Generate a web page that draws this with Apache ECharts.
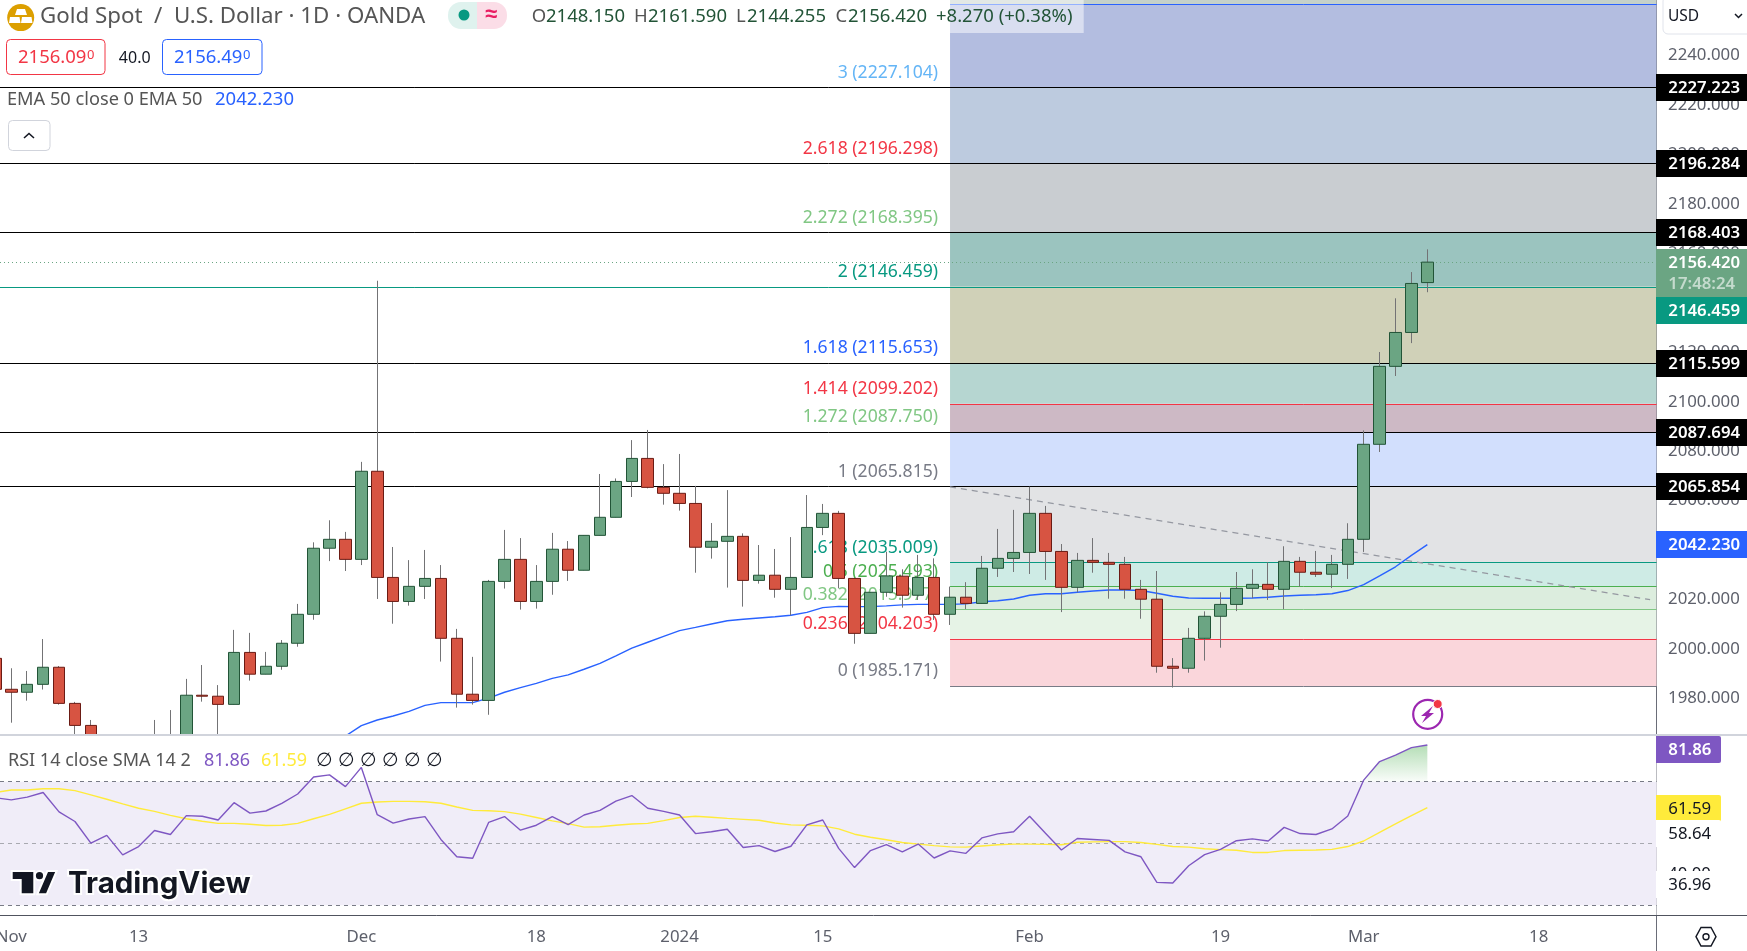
<!DOCTYPE html>
<html>
<head>
<meta charset="utf-8">
<title>Gold Spot / U.S. Dollar</title>
<script src="https://cdn.jsdelivr.net/npm/echarts@6/dist/echarts.min.js"></script>
<style>
html, body { margin: 0; padding: 0; background: #fff; overflow: hidden; }
#main { width: 1747px; height: 951px; }
</style>
</head>
<body>
<div id="main"></div>
<script>
// candles: [open, close, low, high]
var candles = [
    [1996.3,1983.8,1982.0,1999.0],[1983.8,1982.6,1970.3,1992.3],[1982.6,1985.8,1979.2,1991.2],[1985.8,1992.7,1983.7,2004.1],
    [1992.7,1978.1,1977.6,1993.2],[1978.1,1969.2,1963.0,1978.7],[1969.2,1962.0,1958.0,1971.4],[1962.0,1956.0,1950.0,1964.0],
    [1956.0,1952.0,1946.0,1960.0],[1952.0,1955.0,1947.0,1962.0],[1955.0,1960.0,1952.0,1971.4],[1960.0,1958.0,1953.0,1975.4],
    [1958.0,1981.4,1955.0,1988.0],[1981.4,1981.0,1978.8,1993.6],[1981.0,1977.7,1964.0,1985.5],[1977.7,1998.7,1977.7,2007.8],
    [1998.7,1989.9,1987.3,2006.6],[1989.9,1993.1,1989.9,1998.9],[1993.1,2002.4,1991.7,2003.7],[2002.4,2014.1,2001.0,2018.3],
    [2014.1,2040.8,2011.9,2043.2],[2040.8,2044.4,2035.6,2052.1],[2044.4,2036.3,2031.6,2047.4],[2036.3,2071.9,2034.0,2075.7],
    [2071.9,2029.0,2020.3,2148.9],[2029.0,2019.3,2010.3,2041.3],[2019.3,2025.4,2017.6,2036.0],[2025.4,2028.6,2020.3,2040.1],
    [2028.6,2004.4,1995.0,2034.0],[2004.4,1981.8,1976.4,2008.2],[1981.8,1979.3,1977.6,1996.9],[1979.3,2027.4,1973.5,2028.0],
    [2027.4,2036.3,2024.5,2048.2],[2036.3,2019.3,2016.0,2044.9],[2019.3,2027.4,2016.4,2034.0],[2027.4,2040.4,2022.0,2047.0],
    [2040.4,2031.9,2027.6,2043.7],[2031.9,2046.0,2031.9,2046.0],[2046.0,2053.3,2046.0,2070.8],[2053.3,2067.8,2053.3,2069.0],
    [2067.8,2077.1,2061.5,2084.5],[2077.1,2065.4,2065.0,2088.6],[2065.4,2063.0,2058.4,2074.8],[2063.0,2058.9,2056.0,2078.9],
    [2058.9,2041.2,2030.9,2066.0],[2041.2,2043.6,2036.6,2051.0],[2043.6,2045.6,2024.9,2064.3],[2045.6,2027.8,2017.2,2046.8],
    [2027.8,2029.9,2026.5,2042.1],[2029.9,2024.2,2020.8,2040.5],[2024.2,2029.0,2013.7,2045.3],[2029.0,2049.2,2029.0,2062.3],
    [2049.2,2054.9,2046.1,2058.7],[2054.9,2028.6,2024.6,2055.9],[2028.6,2006.4,2002.2,2028.6],[2006.4,2023.0,2006.4,2023.0],
    [2023.0,2029.6,2021.2,2039.4],[2029.5,2021.8,2016.8,2032.3],[2021.8,2029.0,2019.9,2038.1],[2029.0,2014.1,2011.8,2036.7],
    [2014.1,2021.0,2009.8,2025.3],[2021.0,2018.5,2016.2,2027.1],[2018.5,2032.7,2018.5,2037.7],[2032.7,2036.7,2029.2,2048.6],
    [2036.7,2039.1,2031.2,2056.3],[2039.1,2054.9,2030.4,2065.7],[2054.9,2039.5,2028.0,2057.9],[2039.5,2025.0,2015.0,2042.5],
    [2025.0,2035.9,2023.0,2038.9],[2035.9,2035.1,2030.9,2044.9],[2035.1,2034.3,2020.4,2038.9],[2034.3,2024.2,2020.4,2037.3],
    [2024.2,2020.2,2012.3,2028.0],[2020.2,1993.1,1990.5,2031.6],[1993.1,1992.3,1984.5,1996.4],[1992.3,2004.4,1990.5,2008.6],
    [2004.4,2013.3,1995.4,2015.3],[2013.3,2018.1,2000.6,2023.0],[2018.1,2024.6,2015.4,2031.2],[2024.6,2026.2,2020.6,2032.3],
    [2026.2,2024.2,2019.9,2035.1],[2024.2,2035.5,2016.2,2041.6],[2035.5,2031.1,2025.3,2037.3],[2031.1,2030.3,2029.2,2039.7],
    [2030.3,2034.3,2024.7,2038.1],[2034.3,2044.4,2028.4,2050.9],[2044.4,2082.8,2039.3,2088.4],[2082.8,2114.3,2079.7,2120.1],
    [2114.3,2128.0,2110.4,2141.8],[2128.0,2147.8,2123.7,2152.4],[2148.15,2156.42,2144.255,2161.59]
];

var emaValues = [
    null,null,null,null,null,null,null,null,null,null,null,null,null,null,null,null,null,null,null,null,
    1961.0,1963.0,1964.9,1969.1,1971.4,1973.0,1974.9,1977.3,1978.4,1978.4,1978.4,1980.2,1982.6,1984.5,1986.2,1988.2,
    1989.6,1991.9,1994.3,1997.3,2000.4,2002.8,2005.2,2007.5,2008.8,2010.2,2011.5,2012.1,2012.6,2013.1,2013.7,2014.9,
    2016.8,2017.3,2017.2,2017.2,2017.5,2017.9,2018.1,2018.1,2018.1,2018.3,2019.2,2019.6,2020.3,2021.8,2022.4,2022.4,
    2023.0,2023.5,2023.9,2023.9,2023.7,2022.6,2021.4,2020.7,2020.6,2020.6,2020.6,2020.7,2021.0,2021.5,2021.8,2022.0,
    2022.4,2023.7,2026.1,2029.6,2033.3,2037.9,2042.23
];

var rsiValues = [
    64.8,64.1,65.0,66.5,60.2,57.1,50.1,52.6,46.3,49.0,54.2,52.9,59.0,58.8,57.6,63.2,59.8,60.5,63.0,66.0,
    71.5,72.2,68.4,74.6,59.3,56.6,57.9,58.7,51.3,45.7,45.2,56.8,58.7,54.3,55.9,58.7,56.1,59.2,60.7,63.7,
    65.5,61.4,60.4,59.2,53.2,53.8,54.6,48.7,49.3,47.4,49.1,56.0,57.6,48.4,42.2,47.7,49.6,47.3,49.8,45.3,
    47.6,46.8,51.8,53.1,53.8,58.8,53.3,47.9,51.6,51.3,51.0,47.3,45.7,37.4,37.2,42.8,46.4,48.1,50.9,51.5,
    50.8,55.2,53.2,52.9,54.7,58.9,70.5,76.5,78.6,81.0,81.86
];

var rsiSmaValues = [
    66.5,67.3,67.3,67.7,67.7,67.1,65.7,64.3,62.8,61.4,60.4,59.1,58.0,57.2,56.5,56.5,56.2,55.8,55.9,56.5,
    58.0,59.4,61.2,63.0,63.4,63.6,63.6,63.5,63.0,61.8,60.7,60.6,60.3,59.5,58.4,57.3,56.4,55.3,55.4,55.9,
    56.3,56.5,57.4,58.4,58.8,58.5,58.1,57.8,57.5,56.6,56.0,55.9,55.7,54.7,53.0,52.0,51.2,50.3,49.8,49.3,
    48.9,48.8,49.2,49.6,49.8,49.8,49.7,49.6,50.4,50.5,50.6,50.6,50.3,49.7,49.0,48.8,48.3,48.0,47.8,47.1,
    47.1,47.7,47.8,47.9,48.1,49.0,50.8,53.6,56.3,59.0,61.59
];

var slotCount = 105;
var tickSlots = [1, 9, 23, 34, 43, 52, 65, 77, 86, 97];
var tickNames = ['Nov', '13', 'Dec', '18', '2024', '15', 'Feb', '19', 'Mar', '18'];

var priceTicks = [1980, 2000, 2020, 2040, 2060, 2080, 2100, 2120, 2140, 2160, 2180, 2200, 2220, 2240];
var rsiTicks = [40, 60, 80];
var rsiLevels = [70, 50, 30];

var fibStartSlot = 60;
var fibRatios = ['', '3', '2.618', '2.272', '2', '1.618', '1.414', '1.272', '1', '0.618', '0.5', '0.382', '0.236', '0'];
var fibPrices = [2260.491, 2227.104, 2196.298, 2168.395, 2146.459, 2115.653, 2099.202, 2087.750, 2065.815, 2035.009, 2025.493, 2015.977, 2004.203, 1985.171];

var levelPrices = [2227.223, 2196.284, 2168.403, 2146.459, 2115.599, 2087.694, 2065.854];
var closePrice = 2156.42;
var emaLast = 2042.23;
var trendSlots = [60, 104];
var trendPrices = [2065.6, 2020.0];

var rsiTagValues = [81.86, 61.59, 58.64, 36.96];
var rsiOverStart = 86;

// styling
var FONT = '"Noto Sans", sans-serif';
var AXIS_SIZE = 16.8;
var AXIS_GREY = '#5d606b';
var PRICE_MIN = 1965.73, PRICE_MAX = 2262.35;
var fibLineColors = ['#2962ff', '#111', '#111', '#111', '#089981', '#111', '#f23645', '#111', '#111', '#089981', '#4caf50', '#81c784', '#f23645', '#787b86'];
var fibTextColors = ['', '#64b5f6', '#f23645', '#81c784', '#089981', '#2962ff', '#f23645', '#81c784', '#787b86', '#089981', '#4caf50', '#81c784', '#f23645', '#787b86'];
var fibBandColors = ['#b3bde0', '#bdcbdf', '#c9cdd1', '#9bc4bf', '#d0d1b8', '#b6d6d1', '#cdb9c5', '#d2dffd', '#e2e3e5', '#ceebe5', '#dcedde', '#e6f3e6', '#fad6db'];
var levelColors = ['#000', '#000', '#000', '#089981', '#000', '#000', '#000'];
var tagColors = ['#000', '#000', '#000', '#089981', '#000', '#000', '#000', '#2962ff'];
var tagShift = [0, 0, 0, 23, 0, 0, 0, 0];
var rsiTagColors = ['#7e57c2', '#ffeb3b', '#fff', '#fff'];
var rsiTagText = ['#fff', '#131722', '#131722', '#131722'];
var rsiTagShift = [4.3, 0, 16.6, 0];

var tickByslot = {};
tickNames.forEach(function (name, i) { tickByslot[tickSlots[i]] = name; });
var categories = [];
for (var s = 0; s < slotCount; s++) categories.push(tickByslot[s] || '');

function crisp(v) { return Math.floor(v + 0.3) + 0.5; }
function rightEdge(params) { return params.coordSys.x + params.coordSys.width - 1.5; }
function text(x, y, str, color, size, extra) {
    var style = { x: x, y: y, text: str, fill: color, font: (extra && extra.weight || 400) + ' ' + size + 'px ' + FONT, align: extra && extra.align || 'left', verticalAlign: 'middle' };
    return { type: 'text', z: 30, silent: true, style: style };
}

// fib bands between neighbouring levels, plus the sliver above the top level
var fibBandRows = fibPrices.slice(0, -1).map(function (p, i) { return [i, fibPrices[i + 1], p]; });

var tagValues = levelPrices.concat([emaLast]);

var option = {
    animation: false,
    backgroundColor: '#fff',
    textStyle: { fontFamily: FONT },
    grid: [
        { left: -12.55, top: 0, width: 1670.6, height: 734, outerBoundsMode: 'none' },
        { left: -12.55, top: 736.5, width: 1670.6, height: 178.5, outerBoundsMode: 'none' }
    ],
    xAxis: [
        { type: 'category', gridIndex: 0, data: categories, axisLine: { show: false }, axisTick: { show: false }, axisLabel: { show: false }, splitLine: { show: false } },
        {
            type: 'category', gridIndex: 1, data: categories,
            axisLine: { show: false }, axisTick: { show: false }, splitLine: { show: false },
            axisLabel: { interval: 0, color: AXIS_GREY, fontSize: AXIS_SIZE, fontFamily: FONT, margin: 14 }
        }
    ],
    yAxis: [
        {
            type: 'value', gridIndex: 0, position: 'right', min: PRICE_MIN, max: PRICE_MAX,
            axisLine: { show: false }, axisTick: { show: false }, splitLine: { show: false },
            axisLabel: {
                customValues: priceTicks, color: AXIS_GREY, fontSize: AXIS_SIZE, fontFamily: FONT, margin: 10, padding: [1.4, 0, 0, 0],
                formatter: function (v) { return v.toFixed(3); }
            }
        },
        {
            type: 'value', gridIndex: 1, position: 'right', min: 26.86, max: 84.6,
            axisLine: { show: false }, axisTick: { show: false }, splitLine: { show: false },
            axisLabel: {
                customValues: rsiTicks, color: '#131722', fontSize: AXIS_SIZE, fontFamily: FONT, margin: 10,
                formatter: function (v) { return v.toFixed(2); }
            }
        }
    ],
    series: [
        {
            type: 'custom', name: 'fib bands', z: 1, silent: true,
            data: [[13, 2260.491, PRICE_MAX]].concat(fibBandRows),
            renderItem: function (params, api) {
                var left = api.coord([fibStartSlot, 0])[0];
                var top = api.coord([0, api.value(2)])[1];
                var bottom = api.coord([0, api.value(1)])[1];
                var idx = params.dataIndex;
                return {
                    type: 'rect',
                    shape: { x: left, y: top, width: rightEdge(params) - left, height: bottom - top },
                    style: { fill: idx === 0 ? '#c5d1ca' : fibBandColors[idx - 1] }
                };
            }
        },
        {
            type: 'custom', name: 'fib levels', z: 2, silent: true,
            data: fibPrices.map(function (p, i) { return [i, p]; }),
            renderItem: function (params, api) {
                var left = api.coord([fibStartSlot, 0])[0];
                var y = api.coord([0, api.value(1)])[1];
                var i = params.dataIndex;
                var kids = [{
                    type: 'line',
                    shape: { x1: left, y1: crisp(y), x2: rightEdge(params), y2: crisp(y) },
                    style: { stroke: fibLineColors[i], lineWidth: 1 }
                }];
                if (fibRatios[i] !== '') {
                    kids.push({
                        type: 'text',
                        style: {
                            x: left - 12, y: y - 14.6, text: fibRatios[i] + ' (' + fibPrices[i].toFixed(3) + ')',
                            fill: fibTextColors[i], font: '400 17.6px ' + FONT, align: 'right', verticalAlign: 'middle'
                        }
                    });
                }
                return { type: 'group', children: kids };
            }
        },
        {
            type: 'custom', name: 'levels', z: 3, silent: true,
            data: levelPrices.map(function (p, i) { return [i, p]; }),
            renderItem: function (params, api) {
                var y = crisp(api.coord([0, api.value(1)])[1]);
                return {
                    type: 'line',
                    shape: { x1: 0, y1: y, x2: rightEdge(params), y2: y },
                    style: { stroke: levelColors[params.dataIndex], lineWidth: 1 }
                };
            }
        },
        {
            type: 'custom', name: 'close line', z: 3, silent: true,
            data: [[0, closePrice]],
            renderItem: function (params, api) {
                var y = crisp(api.coord([0, api.value(1)])[1]);
                return {
                    type: 'line',
                    shape: { x1: 0, y1: y, x2: rightEdge(params), y2: y },
                    style: { stroke: '#6ba583', lineWidth: 1, lineDash: [1, 3] }
                };
            }
        },
        {
            type: 'line', name: 'trend', z: 4, silent: true, symbol: 'none',
            data: trendSlots.map(function (s, i) { return [s, trendPrices[i]]; }),
            lineStyle: { color: '#9598a1', width: 1.2, type: [6, 5] }
        },
        {
            type: 'line', name: 'EMA 50', z: 4, silent: true, symbol: 'none', data: emaValues,
            lineStyle: { color: '#2962ff', width: 1.4 }
        },
        {
            type: 'candlestick', name: 'wicks', z: 5, silent: true, barWidth: 1, data: candles,
            itemStyle: { color: '#737375', color0: '#737375', borderColor: '#737375', borderColor0: '#737375', borderWidth: 1 }
        },
        {
            type: 'candlestick', name: 'bodies', z: 6, silent: true, barWidth: 12,
            data: candles.map(function (c) { return [c[0], c[1], Math.min(c[0], c[1]), Math.max(c[0], c[1])]; }),
            itemStyle: { color: '#6ba583', color0: '#d75442', borderColor: '#225437', borderColor0: '#6b1b14', borderWidth: 1 }
        },
        {
            type: 'custom', name: 'price tags', z: 10, silent: true,
            data: tagValues.map(function (p, i) { return [i, p]; }),
            renderItem: function (params, api) {
                var y = crisp(api.coord([0, api.value(1)])[1]) - 0.5 + tagShift[params.dataIndex];
                var p = api.value(1);
                return {
                    type: 'group',
                    children: [
                        { type: 'rect', shape: { x: 1656, y: y - 13, width: 91, height: 27 }, style: { fill: tagColors[params.dataIndex] } },
                        { type: 'text', style: { x: 1668.3, y: y + 0.8, text: p.toFixed(3), fill: '#fff', font: '600 16.8px ' + FONT, align: 'left', verticalAlign: 'middle' } }
                    ]
                };
            }
        },
        {
            type: 'custom', name: 'close tag', z: 11, silent: true,
            data: [[0, closePrice]],
            renderItem: function (params, api) {
                var y = crisp(api.coord([0, api.value(1)])[1]) - 0.5;
                return {
                    type: 'group',
                    children: [
                        { type: 'rect', shape: { x: 1656, y: y - 13, width: 91, height: 48 }, style: { fill: '#6ba583' } },
                        { type: 'text', style: { x: 1668.3, y: y + 0.8, text: closePrice.toFixed(3), fill: '#fff', font: '600 16.8px ' + FONT, align: 'left', verticalAlign: 'middle' } },
                        { type: 'text', style: { x: 1668.3, y: y + 22, text: '17:48:24', fill: 'rgba(255,255,255,0.6)', font: '600 16.8px ' + FONT, align: 'left', verticalAlign: 'middle' } }
                    ]
                };
            }
        },

        // RSI pane, sits over the candle bodies that run past the price pane
        {
            type: 'custom', name: 'rsi backdrop', xAxisIndex: 1, yAxisIndex: 1, z: 7, silent: true,
            data: [[0, 0]],
            renderItem: function (params) {
                return {
                    type: 'rect',
                    shape: { x: 0, y: params.coordSys.y - 1, width: rightEdge(params), height: params.coordSys.height + 1 },
                    style: { fill: '#fff' }
                };
            }
        },
        {
            type: 'custom', name: 'rsi band', xAxisIndex: 1, yAxisIndex: 1, z: 7, silent: true,
            data: [[0, rsiLevels[0], rsiLevels[2]]],
            renderItem: function (params, api) {
                var top = api.coord([0, api.value(1)])[1];
                var bottom = api.coord([0, api.value(2)])[1];
                return {
                    type: 'rect',
                    shape: { x: 0, y: top, width: rightEdge(params), height: bottom - top },
                    style: { fill: '#f0edf8' }
                };
            }
        },
        {
            type: 'custom', name: 'rsi levels', xAxisIndex: 1, yAxisIndex: 1, z: 8, silent: true,
            data: rsiLevels.map(function (v, i) { return [i, v]; }),
            renderItem: function (params, api) {
                var y = crisp(api.coord([0, api.value(1)])[1]);
                return {
                    type: 'line',
                    shape: { x1: 0, y1: y, x2: rightEdge(params), y2: y },
                    style: { stroke: params.dataIndex === 1 ? '#a8a9b0' : '#787b86', lineWidth: 1, lineDash: [4, 4] }
                };
            }
        },
        {
            type: 'line', name: 'rsi over', xAxisIndex: 1, yAxisIndex: 1, z: 8, silent: true, symbol: 'none',
            data: rsiValues.map(function (v, i) { return i >= rsiOverStart ? v : null; }),
            lineStyle: { width: 0 },
            areaStyle: {
                origin: rsiLevels[0], opacity: 1,
                color: new echarts.graphic.LinearGradient(0, 0, 0, 1, [
                    { offset: 0, color: 'rgba(76,175,80,0.42)' },
                    { offset: 1, color: 'rgba(76,175,80,0.03)' }
                ])
            }
        },
        {
            type: 'line', name: 'RSI SMA', xAxisIndex: 1, yAxisIndex: 1, z: 8, silent: true, symbol: 'none', data: rsiSmaValues,
            lineStyle: { color: '#ffeb3b', width: 1.4 }
        },
        {
            type: 'line', name: 'RSI', xAxisIndex: 1, yAxisIndex: 1, z: 8, silent: true, symbol: 'none', data: rsiValues,
            lineStyle: { color: '#7e57c2', width: 1.4 }
        },
        {
            type: 'custom', name: 'rsi tags', xAxisIndex: 1, yAxisIndex: 1, z: 10, silent: true,
            data: rsiTagValues.map(function (v, i) { return [i, v]; }),
            renderItem: function (params, api) {
                var i = params.dataIndex;
                var y = Math.round(api.coord([0, api.value(1)])[1] + rsiTagShift[i]);
                return {
                    type: 'group',
                    children: [
                        { type: 'rect', shape: { x: 1656, y: y - 13, width: 65, height: 27, r: [0, 2, 2, 0] }, style: { fill: rsiTagColors[i] } },
                        { type: 'text', style: { x: 1668.3, y: y + 1, text: rsiTagValues[i].toFixed(2), fill: rsiTagText[i], font: (i === 0 ? '600' : '400') + ' 16.8px ' + FONT, align: 'left', verticalAlign: 'middle' } }
                    ]
                };
            }
        }
    ],
    graphic: [
        // frame lines
        { type: 'line', z: 0, silent: true, shape: { x1: 1656.5, y1: 0, x2: 1656.5, y2: 951 }, style: { stroke: '#6a6d78', lineWidth: 1 } },
        { type: 'line', z: 0, silent: true, shape: { x1: 0, y1: 915.5, x2: 1747, y2: 915.5 }, style: { stroke: '#50535e', lineWidth: 1 } },
        { type: 'rect', z: 9, silent: true, shape: { x: 0, y: 734, width: 1747, height: 2 }, style: { fill: '#d1d4dc' } },

        // header
        { type: 'circle', z: 30, silent: true, shape: { cx: 20.7, cy: 17.6, r: 13.5 }, style: { fill: '#dc9f00' } },
        { type: 'polygon', z: 31, silent: true, shape: { points: [[17, 9], [25, 9], [27, 15], [15, 15]] }, style: { fill: '#fff' } },
        { type: 'polygon', z: 31, silent: true, shape: { points: [[10, 17], [19.5, 17], [20.5, 23], [9, 23]] }, style: { fill: '#fff' } },
        { type: 'polygon', z: 31, silent: true, shape: { points: [[22, 17], [31.5, 17], [32.5, 23], [21, 23]] }, style: { fill: '#fff' } },
        text(40, 17, 'Gold Spot  /  U.S. Dollar · 1D · OANDA', '#555', 22.3),
        { type: 'rect', z: 30, silent: true, shape: { x: 448, y: 2, width: 30, height: 27, r: [13, 0, 0, 13] }, style: { fill: '#dff2ee' } },
        { type: 'rect', z: 30, silent: true, shape: { x: 477, y: 2, width: 30, height: 27, r: [0, 13, 13, 0] }, style: { fill: '#fbdde7' } },
        { type: 'circle', z: 31, silent: true, shape: { cx: 464, cy: 15, r: 5.5 }, style: { fill: '#089981' } },
        text(491, 15, '≈', '#e91e63', 22, { align: 'center', weight: 700 }),

        { type: 'rect', z: 29, silent: true, shape: { x: 949.7, y: 0, width: 134, height: 33 }, style: { fill: 'rgba(255,255,255,0.5)' } },
        text(531.8, 17, 'O', '#555', 18.5),
        text(546, 17, '2148.150', '#225437', 18.5),
        text(634, 17, 'H', '#555', 18.5),
        text(648, 17, '2161.590', '#225437', 18.5),
        text(736, 17, 'L', '#555', 18.5),
        text(747, 17, '2144.255', '#225437', 18.5),
        text(835.6, 17, 'C', '#555', 18.5),
        text(848, 17, '2156.420', '#225437', 18.5),
        text(936, 17, '+8.270 (+0.38%)', '#225437', 18.5),

        { type: 'rect', z: 30, silent: true, shape: { x: 6.5, y: 39.5, width: 98.5, height: 35, r: 4 }, style: { fill: '#fff', stroke: '#f23645', lineWidth: 1 } },
        text(18, 58, '2156.09', '#f23645', 18.5),
        text(87, 55, '0', '#f23645', 13),
        text(134.7, 58, '40.0', '#131722', 16, { align: 'center' }),
        { type: 'rect', z: 30, silent: true, shape: { x: 162.5, y: 39.5, width: 99.5, height: 35, r: 4 }, style: { fill: '#fff', stroke: '#2962ff', lineWidth: 1 } },
        text(174, 58, '2156.49', '#2962ff', 18.5),
        text(243, 55, '0', '#2962ff', 13),

        text(7, 100, 'EMA 50 close 0 EMA 50', '#555', 18.2),
        text(215, 100, '2042.230', '#2962ff', 18.5),
        { type: 'rect', z: 30, silent: true, shape: { x: 8.5, y: 120.5, width: 41.5, height: 30, r: 4 }, style: { fill: '#fff', stroke: '#d1d4dc', lineWidth: 1 } },
        { type: 'polyline', z: 31, silent: true, shape: { points: [[24, 138], [29, 133.5], [34, 138]] }, style: { stroke: '#131722', lineWidth: 1.6, fill: 'none' } },

        // right column
        { type: 'rect', z: 30, silent: true, shape: { x: 1663, y: -4, width: 92, height: 38, r: 5 }, style: { fill: '#fff', stroke: '#e0e3eb', lineWidth: 1 } },
        text(1668, 17, 'USD', '#131722', 15.5),
        { type: 'polyline', z: 31, silent: true, shape: { points: [[1735, 14], [1738.5, 17.5], [1742, 14]] }, style: { stroke: '#131722', lineWidth: 1.5, fill: 'none' } },
        { type: 'polygon', z: 30, silent: true, shape: { points: [[1696, 936.7], [1701, 927.5], [1711, 927.5], [1716, 936.7], [1711, 946], [1701, 946]] }, style: { fill: 'none', stroke: '#131722', lineWidth: 1.4 } },
        { type: 'circle', z: 30, silent: true, shape: { cx: 1706, cy: 936.7, r: 3 }, style: { fill: 'none', stroke: '#131722', lineWidth: 1.4 } },

        // bolt badge
        { type: 'circle', z: 30, silent: true, shape: { cx: 1427.7, cy: 714.3, r: 14.5 }, style: { fill: 'none', stroke: '#9c27b0', lineWidth: 2.2 } },
        { type: 'polygon', z: 31, silent: true, shape: { points: [[1433, 706], [1421, 716], [1426, 716], [1422, 723], [1434, 713], [1429, 713]] }, style: { fill: '#9c27b0' } },
        { type: 'circle', z: 32, silent: true, shape: { cx: 1437.7, cy: 704, r: 4.5 }, style: { fill: '#f23645', stroke: '#fff', lineWidth: 1 } },

        // RSI legend
        text(8, 761, 'RSI 14 close SMA 14 2', '#555', 18),
        text(204, 761, '81.86', '#7e57c2', 18),
        text(261, 761, '61.59', '#ffeb3b', 18),
        text(324.6, 761, '∅', '#131722', 19, { align: 'center' }),
        text(346.4, 761, '∅', '#131722', 19, { align: 'center' }),
        text(368.3, 761, '∅', '#131722', 19, { align: 'center' }),
        text(390, 761, '∅', '#131722', 19, { align: 'center' }),
        text(412, 761, '∅', '#131722', 19, { align: 'center' }),
        text(434, 761, '∅', '#131722', 19, { align: 'center' }),

        // watermark
        { type: 'polygon', z: 30, silent: true, shape: { points: [[11.7, 871], [34.3, 871], [34.3, 894.3], [20.7, 894.3], [20.7, 880], [11.7, 880]] }, style: { fill: '#131722', stroke: '#fff', lineWidth: 2 } },
        { type: 'circle', z: 30, silent: true, shape: { cx: 39.5, cy: 875.7, r: 4.6 }, style: { fill: '#131722', stroke: '#fff', lineWidth: 2 } },
        { type: 'polygon', z: 30, silent: true, shape: { points: [[47.3, 871], [56.7, 871], [46.7, 894.3], [37.3, 894.3]] }, style: { fill: '#131722', stroke: '#fff', lineWidth: 2 } },
        { type: 'text', z: 30, silent: true, style: { x: 68, y: 884.5, text: 'TradingView', fill: '#131722', stroke: '#fff', lineWidth: 4, font: '700 29.5px Inter, sans-serif', align: 'left', verticalAlign: 'middle' } }
    ]
};

var myChart = echarts.init(document.getElementById('main'));
myChart.setOption(option);
</script>
</body>
</html>
